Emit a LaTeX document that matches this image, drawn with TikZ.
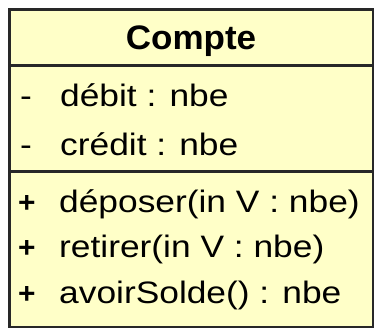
\documentclass[tikz,border=0pt]{standalone}
\usepackage{fontspec}
\setmainfont{Liberation Sans}[FakeStretch=1.14]
\newfontfamily\titlefont{Liberation Sans}[FakeStretch=1.03]
\definecolor{classfill}{RGB}{255,255,200}
\definecolor{classline}{RGB}{40,40,40}
\tikzset{
  classbox/.style={draw=classline, line width=2.6pt, fill=classfill},
  divider/.style={draw=classline, line width=2.6pt},
  title/.style={inner sep=0pt, anchor=base, font=\titlefont\fontsize{34}{40}\selectfont\bfseries},
  private/.style={inner sep=0pt, anchor=base west, font=\fontsize{31}{36}\selectfont},
  public/.style={inner sep=0pt, anchor=base west, font=\titlefont\fontsize{29}{34}\selectfont\bfseries},
  member/.style={inner sep=0pt, anchor=base west, font=\fontsize{31}{36}\selectfont},
}
\begin{document}
\begin{tikzpicture}[x=1pt,y=-1pt]
  \useasboundingbox (0,0) rectangle (377,329);
  % class frame and compartments
  \path[classbox] (9.5,9.5) rectangle (373,327);
  \coordinate (d1l) at (9.5,65.7);
  \coordinate (d1r) at (373,65.7);
  \coordinate (d2l) at (9.5,171.3);
  \coordinate (d2r) at (373,171.3);
  \draw[divider] (d1l) -- (d1r);
  \draw[divider] (d2l) -- (d2r);
  % class name
  \node[title] (name) at (191,49) {Compte};
  % attributes
  \node[private] (v1) at (20,106) {-};
  \node[member] (a1) at (60,106) {débit : nbe};
  \node[private] (v2) at (20,155) {-};
  \node[member] (a2) at (60,155) {crédit : nbe};
  % operations
  \node[public] (v3) at (18,212) {+};
  \node[member] (o1) at (59,212) {déposer(in V : nbe)};
  \node[public] (v4) at (18,257) {+};
  \node[member] (o2) at (59,257) {retirer(in V : nbe)};
  \node[public] (v5) at (18,303) {+};
  \node[member] (o3) at (59,303) {avoirSolde() : nbe};
\end{tikzpicture}
\end{document}
